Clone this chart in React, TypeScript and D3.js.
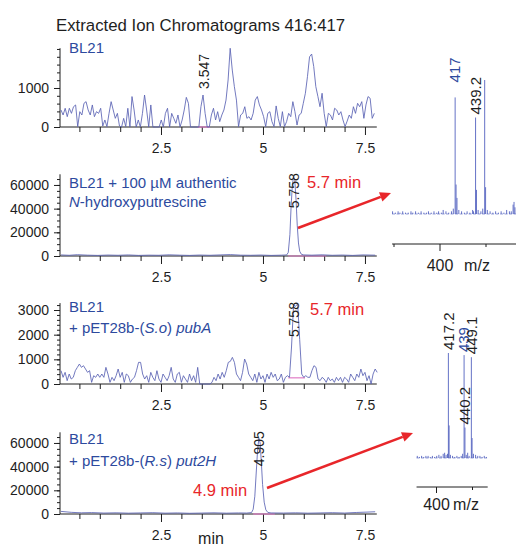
import React, { useEffect, useRef } from 'react';
import * as d3 from 'd3';

// ---- chromatogram data (counts vs. retention time, min) ----
// BL21 control, evenly sampled
const bl21Start = 0.049;
const bl21Step = 0.0512;
const bl21Counts = [
  436, 308, 480, 265, 480, 350, 520, 565, 10, 393,
  308, 607, 650, 436, 308, 565, 265, 393, 350, 480,
  25, 180, 10, 350, 650, 436, 222, 350, 25, 0,
  222, 10, 480, 0, 780, 436, 0, 180, 0, 350,
  820, 436, 0, 565, 0, 0, 0, 0, 180, 0,
  350, 480, 0, 350, 222, 94, 308, 0, 180, 436,
  760, 607, 0, 0, 0, 0, 0, 520, 820, 350,
  0, 0, 308, 480, 180, 393, 137, 308, 436, 690,
  1205, 2018, 1460, 1035, 690, 10, 308, 350, 520, 222,
  265, 180, 350, 690, 780, 565, 436, 265, 10, 350,
  393, 137, 10, 540, 222, 10, 393, 10, 137, 350,
  265, 650, 393, 50, 308, 350, 607, 865, 1290, 1800,
  1870, 1550, 1035, 780, 520, 865, 350, 10, 350, 308,
  180, 480, 436, 308, 393, 180, 10, 150, 308, 222,
  520, 350, 607, 520, 650, 222, 565, 780, 736, 222,
  350,
];

// BL21 + authentic N-hydroxyputrescine
const authTimes = [
  0.05, 0.25, 0.45, 0.7, 0.95, 1.2, 1.45, 1.7, 1.95, 2.2,
  2.45, 2.7, 2.95, 3.2, 3.45, 3.7, 3.95, 4.2, 4.45, 4.7,
  4.95, 5.2, 5.45, 5.58, 5.62, 5.66, 5.69, 5.72, 5.75, 5.78,
  5.81, 5.84, 5.87, 5.9, 5.94, 6.0, 6.2, 6.45, 6.7, 6.95,
  7.2, 7.45, 7.75,
];
const authCounts = [
  900, 600, 1100, 700, 500, 800, 600, 900, 500, 700,
  600, 1000, 700, 500, 800, 600, 900, 1200, 700, 600,
  800, 500, 700, 900, 3000, 18000, 42000, 60000, 67000, 64000,
  48000, 26000, 11000, 4000, 1500, 900, 700, 1000, 600, 800,
  500, 900, 700,
];

// BL21 + pET28b-(S.o) pubA, evenly sampled
const pubAStart = 0.05;
const pubAStep = 0.05;
const pubACounts = [
  540, 270, 472, 135, 405, 202, 270, 540, 675, 810,
  675, 742, 607, 472, 540, 67, 337, 270, 405, 270,
  405, 270, 675, 405, 67, 270, 135, 337, 607, 270,
  472, 67, 405, 337, 67, 202, 270, 540, 877, 877,
  405, 202, 337, 67, 472, 270, 135, 540, 202, 67,
  405, 270, 135, 337, 675, 202, 67, 405, 472, 67,
  337, 202, 67, 405, 135, 337, 67, 675, 0, 0,
  0, 0, 0, 0, 67, 270, 135, 405, 202, 472,
  270, 540, 877, 918, 1080, 877, 405, 270, 135, 472,
  1012, 810, 405, 270, 135, 405, 67, 472, 202, 337,
  67, 405, 202, 472, 270, 405, 135, 202, 405, 67,
  270, 337, 270, 1500, 3200, 3150, 3250, 1800, 400, 270,
  337, 270, 270, 540, 742, 675, 202, 135, 270, 202,
  67, 270, 135, 202, 67, 270, 135, 270, 67, 270,
  202, 67, 405, 270, 135, 405, 270, 607, 337, 472,
  135, 337, 0, 405, 607, 472,
];

// BL21 + pET28b-(R.s) put2H
const put2HTimes = [
  0.05, 0.3, 0.55, 0.8, 1.1, 1.4, 1.7, 2.0, 2.3, 2.6,
  2.9, 3.2, 3.5, 3.8, 4.1, 4.4, 4.6, 4.72, 4.76, 4.8,
  4.84, 4.87, 4.9, 4.93, 4.96, 4.99, 5.03, 5.07, 5.12, 5.2,
  5.5, 5.8, 6.1, 6.4, 6.7, 7.0, 7.3, 7.55, 7.75,
];
const put2HCounts = [
  2200, 1400, 1000, 1200, 800, 1000, 700, 900, 1100, 700,
  900, 600, 800, 1000, 700, 900, 800, 1200, 4000, 15000,
  38000, 55000, 64000, 60000, 44000, 25000, 10000, 3500, 1300, 900,
  800, 1000, 700, 900, 1100, 800, 1300, 1600, 1900,
];

// ---- mass spectra (m/z, relative abundance %) ----
const spec1Mz = [
  349, 352, 355, 357, 360, 363, 366, 369, 371, 374,
  377, 380, 383, 386, 388, 391, 394, 397, 399, 402,
  404, 407, 410, 413, 415, 417, 418, 419, 421, 424,
  427, 430, 433, 436, 437, 439.2, 440.2, 442, 445, 447,
  449.1, 450.1, 452, 455, 458, 461, 464, 467, 470, 473,
  476, 478, 480, 481, 482, 484,
];
const spec1Int = [
  2, 1, 2, 1, 2, 1, 1, 2, 1, 2,
  1, 2, 1, 1, 2, 1, 2, 1, 2, 1,
  3, 2, 1, 2, 4, 87, 22, 12, 3, 2,
  1, 2, 1, 3, 2, 72, 18, 3, 2, 4,
  100, 20, 3, 2, 1, 2, 1, 2, 1, 3,
  2, 2, 7, 9, 5, 4,
];
const spec2Mz = [
  374, 377, 380, 383, 386, 389, 392, 395, 398, 401,
  404, 407, 410, 412, 414, 416, 417.2, 418.2, 420, 423,
  426, 429, 432, 435, 437, 439, 440.2, 442, 444, 446,
  449.1, 450.1, 452, 455, 458, 461, 464, 467, 470,
];
const spec2Int = [
  2, 1, 2, 1, 2, 2, 1, 2, 1, 2,
  3, 2, 4, 5, 3, 4, 100, 31, 3, 2,
  1, 2, 1, 2, 4, 98, 29, 3, 5, 2,
  96, 19, 4, 3, 2, 2, 1, 2, 1,
];

const title = 'Extracted Ion Chromatograms 416:417';
const xMajor = [2.5, 5, 7.5];
const xMinor = [0.5, 1, 1.5, 2, 3, 3.5, 4, 4.5, 5.5, 6, 6.5, 7];

const FONT = '"Liberation Sans", Arial, Helvetica, sans-serif';
const BLUE = '#2d4a9e';
const TRACE = '#5a62b4';
const STICK = '#5362c0';
const RED = '#e8262a';
const PINK = '#e07cc6';
const INK = '#1e1e1e';

const even = (start: number, step: number, counts: number[]) =>
  counts.map((c, i) => [start + i * step, c] as [number, number]);

export default function App() {
  const ref = useRef<SVGSVGElement>(null);

  useEffect(() => {
    const svg = d3.select(ref.current);
    svg.selectAll('*').remove();

    svg.append('text').attr('x', 56).attr('y', 30.5)
      .attr('font-size', 16.8).attr('fill', INK).text(title);

    const panels = [
      {
        pts: even(bl21Start, bl21Step, bl21Counts), y0: 127, top: 48.2, max: 2020,
        major: [0, 1000], minor: 200, peak: 3.547, pink: [3.4, 3.7, 0],
        legend: [[['BL21', false]]], ly: [53],
      },
      {
        pts: d3.zip(authTimes, authCounts), y0: 256, top: 174.3, max: 69000,
        major: [0, 20000, 40000, 60000], minor: 5000, peak: 5.758, pink: [5.62, 6.55, 0],
        legend: [[['BL21 + 100 \u00b5M authentic', false]], [['N', true], ['-hydroxyputrescine', false]]],
        ly: [188, 207], red: { text: '5.7 min', x: 307, y: 188 },
      },
      {
        pts: even(pubAStart, pubAStep, pubACounts), y0: 384, top: 303.1, max: 3280,
        major: [0, 1000, 2000, 3000], minor: 200, peak: 5.758, pink: [5.62, 6.03, 250],
        legend: [[['BL21', false]], [['+ pET28b-(', false], ['S.o', true], [') ', false], ['pubA', true]]],
        ly: [312, 333], red: { text: '5.7 min', x: 310, y: 315 },
      },
      {
        pts: d3.zip(put2HTimes, put2HCounts), y0: 514, top: 432.3, max: 69000,
        major: [0, 20000, 40000, 60000], minor: 5000, peak: 4.905, pink: [4.76, 5.29, 0],
        legend: [[['BL21', false]], [['+ pET28b-(', false], ['R.s', true], [') ', false], ['put2H', true]]],
        ly: [444, 466], red: { text: '4.9 min', x: 193, y: 496 },
      },
    ];

    const x = d3.scaleLinear().domain([0, 7.8]).range([59, 377.2]);

    panels.forEach((p: any) => {
      const y = d3.scaleLinear().domain([0, p.max]).range([p.y0, p.top]);
      const g = svg.append('g');

      // x axis
      g.append('g').attr('transform', `translate(0,${p.y0})`)
        .call(d3.axisBottom(x).tickValues(xMinor).tickSize(5).tickFormat(() => ''))
        .call((a: any) => a.select('.domain').remove())
        .attr('color', INK);
      g.append('g').attr('transform', `translate(0,${p.y0})`)
        .call(d3.axisBottom(x).tickValues(xMajor).tickSize(8).tickPadding(8).tickFormat((d: any) => String(d)))
        .call((a: any) => a.select('.domain').remove())
        .attr('color', INK).attr('font-size', 14).attr('font-family', FONT);
      g.append('line').attr('x1', 60).attr('x2', x(7.79)).attr('y1', p.y0).attr('y2', p.y0)
        .attr('stroke', INK).attr('stroke-width', 1);

      // y axis
      g.append('g').attr('transform', 'translate(60,0)')
        .call(d3.axisLeft(y).tickValues(d3.range(0, p.max, p.minor)).tickSize(3).tickFormat(() => ''))
        .call((a: any) => a.select('.domain').remove())
        .attr('color', INK);
      g.append('g').attr('transform', 'translate(60,0)')
        .call(d3.axisLeft(y).tickValues(p.major).tickSize(6).tickPadding(5).tickFormat((d: any) => String(d)))
        .call((a: any) => a.select('.domain').remove())
        .attr('color', INK).attr('font-size', 14).attr('font-family', FONT);
      g.append('line').attr('x1', 60).attr('x2', 60).attr('y1', p.y0).attr('y2', p.top)
        .attr('stroke', INK).attr('stroke-width', 1);

      // integration baseline
      g.append('line').attr('x1', x(p.pink[0])).attr('x2', x(p.pink[1]))
        .attr('y1', y(p.pink[2])).attr('y2', y(p.pink[2]))
        .attr('stroke', PINK).attr('stroke-width', 1.2);

      // trace
      const line = d3.line<[number, number]>().x(d => x(d[0])).y(d => y(d[1]));
      g.append('path').attr('d', line(p.pts)).attr('fill', 'none')
        .attr('stroke', TRACE).attr('stroke-width', 0.85).attr('stroke-linejoin', 'round');

      // peak label
      const near = p.pts.filter((d: number[]) => Math.abs(d[0] - p.peak) < 0.12);
      const top = d3.max(near, (d: number[]) => d[1]) as number;
      const yb = Math.max(y(top) - 6, p.top + 34);
      g.append('text').attr('transform', `translate(${x(p.peak)},${yb}) rotate(-90)`)
        .attr('dy', '0.35em').attr('font-size', 14).attr('fill', INK).text(String(p.peak));

      // legend
      p.legend.forEach((parts: any[], i: number) => {
        const t = g.append('text').attr('x', 69).attr('y', p.ly[i])
          .attr('font-size', 15).attr('fill', BLUE);
        parts.forEach(([s, it]: any) => {
          t.append('tspan').attr('font-style', it ? 'italic' : 'normal').text(s);
        });
      });

      if (p.red) {
        g.append('text').attr('x', p.red.x).attr('y', p.red.y)
          .attr('font-size', 16.5).attr('fill', RED).text(p.red.text);
      }
    });

    // arrows
    const arrows = [[298, 228, 391, 193], [267, 488, 413, 433]];
    arrows.forEach(([x1, y1, x2, y2]) => {
      const a = Math.atan2(y2 - y1, x2 - x1);
      const len = 11, w = 5;
      const bx = x2 - len * Math.cos(a), by = y2 - len * Math.sin(a);
      svg.append('line').attr('x1', x1).attr('y1', y1).attr('x2', bx).attr('y2', by)
        .attr('stroke', RED).attr('stroke-width', 2.6);
      svg.append('path')
        .attr('d', `M${x2},${y2}L${bx - w * Math.sin(a)},${by + w * Math.cos(a)}L${bx + w * Math.sin(a)},${by - w * Math.cos(a)}Z`)
        .attr('fill', RED);
    });

    // mass spectra
    const spectra = [
      {
        mz: spec1Mz, int: spec1Int, dom: [350, 450], rng: [393.5, 485.5], base: 214, top: 80,
        axisY: 244, from: 348.5, to: 490, minorT: [350, 450], majorLen: 7, pad: 8.6, mzX: 477,
        labels: [{ mz: 417, text: '417', c: BLUE, gap: 15 }, { mz: 439.2, text: '439.2', c: INK, gap: 3 }],
      },
      {
        mz: spec2Mz, int: spec2Int, dom: [400, 450], rng: [436, 472], base: 458, top: 353,
        axisY: 487, from: 373, to: 471.8, minorT: [450], majorLen: 6, pad: 5.6, mzX: 466,
        labels: [
          { mz: 417.2, text: '417.2', c: INK, gap: 3 }, { mz: 439, text: '439', c: BLUE, gap: 3 },
          { mz: 449.1, text: '449.1', c: INK, gap: 3 }, { mz: 440.2, text: '440.2', c: INK, gap: 3 },
        ],
      },
    ];

    spectra.forEach(s => {
      const sx = d3.scaleLinear().domain(s.dom).range(s.rng);
      const sy = d3.scaleLinear().domain([0, 100]).range([s.base, s.top]);
      const g = svg.append('g');
      g.append('line').attr('x1', sx(s.from)).attr('x2', sx(s.to)).attr('y1', s.base).attr('y2', s.base)
        .attr('stroke', STICK).attr('stroke-width', 0.6).attr('stroke-dasharray', '3,1.5');
      g.selectAll('line.stick').data(d3.zip(s.mz, s.int)).join('line')
        .attr('class', 'stick')
        .attr('x1', d => sx(d[0])).attr('x2', d => sx(d[0]))
        .attr('y1', sy(0)).attr('y2', d => sy(d[1]))
        .attr('stroke', STICK).attr('stroke-width', 0.9);

      s.labels.forEach(l => {
        const i = s.mz.indexOf(l.mz);
        g.append('text').attr('transform', `translate(${sx(l.mz)},${sy(s.int[i]) - l.gap}) rotate(-90)`)
          .attr('dy', '0.35em').attr('font-size', 15).attr('fill', l.c).text(l.text);
      });

      g.append('line').attr('x1', sx(s.from)).attr('x2', sx(s.to)).attr('y1', s.axisY).attr('y2', s.axisY)
        .attr('stroke', INK).attr('stroke-width', 1);
      g.append('g').attr('transform', `translate(0,${s.axisY})`)
        .call(d3.axisBottom(sx).tickValues(s.minorT).tickSize(3).tickFormat(() => ''))
        .call((a: any) => a.select('.domain').remove())
        .attr('color', INK);
      g.append('g').attr('transform', `translate(0,${s.axisY})`)
        .call(d3.axisBottom(sx).tickValues([400]).tickSize(s.majorLen).tickPadding(s.pad).tickFormat((d: any) => String(d)))
        .call((a: any) => a.select('.domain').remove())
        .attr('color', INK).attr('font-size', 16).attr('font-family', FONT);
      g.append('text').attr('x', s.mzX).attr('y', s.axisY + s.majorLen + s.pad + 11.4)
        .attr('text-anchor', 'middle').attr('font-size', 16).attr('fill', INK).text('m/z');
    });

    svg.append('text').attr('x', 211).attr('y', 543.5).attr('text-anchor', 'middle')
      .attr('font-size', 16).attr('fill', INK).text('min');
  }, []);

  return (
    <svg
      ref={ref}
      width={516}
      height={545}
      style={{ position: 'absolute', left: 0, top: 0, background: '#fff', fontFamily: FONT }}
    />
  );
}
